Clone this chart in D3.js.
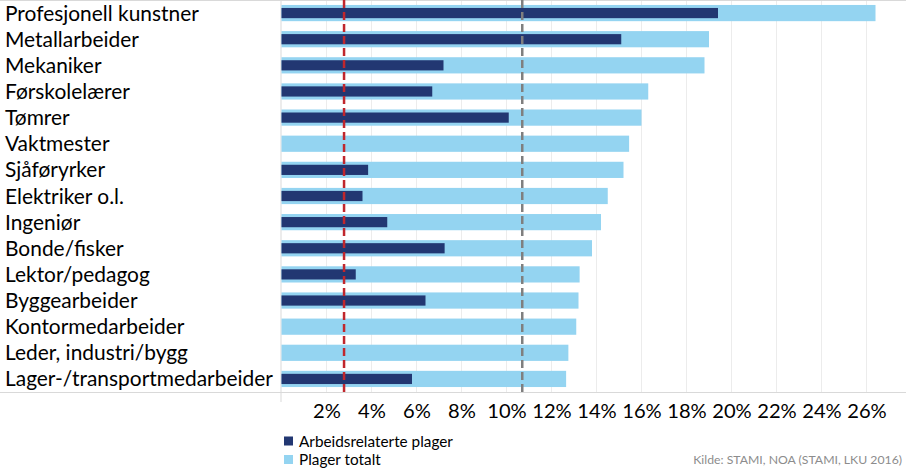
<!DOCTYPE html>
<html><head><meta charset="utf-8">
<script src="https://cdn.jsdelivr.net/npm/d3@7"></script>
<style>body{margin:0;background:#fff}svg{display:block}</style>
</head><body>
<svg id="c" width="906" height="470"></svg>
<script>
const categories = ["Profesjonell kunstner","Metallarbeider","Mekaniker","Førskolelærer","Tømrer","Vaktmester","Sjåførykrer".replace("ykrer","yrker"),"Elektriker o.l.","Ingeniør","Bonde/fisker","Lektor/pedagog","Byggearbeider","Kontormedarbeider","Leder, industri/bygg","Lager-/transportmedarbeider"];
const totalValues = [26.4,19.0,18.8,16.3,16.0,15.45,15.2,14.5,14.2,13.8,13.25,13.2,13.1,12.75,12.65];
const workValues  = [19.4,15.1,7.2,6.7,10.1,null,3.85,3.6,4.7,7.25,3.3,6.4,null,null,5.8];
const tickValues = [2,4,6,8,10,12,14,16,18,20,22,24,26];
const refLines = [{v:2.78,color:"#c0272d"},{v:10.7,color:"#7f7f7f"}];
const seriesNames = ["Arbeidsrelaterte plager","Plager totalt"];
const colors = ["#223772","#94d4f1"];
const sourceText = "Kilde: STAMI, NOA (STAMI, LKU 2016)";

const svg = d3.select("#c");
const font = "Lato, 'Open Sans', sans-serif";
const x = d3.scaleLinear().domain([0,28]).range([281.5, 281.5+28*22.5]);
const y = d3.scaleBand().domain(categories).range([0,392]).paddingInner(0.38).paddingOuter(0.19);

// fit font size of a text selection so that a given node has target width
function fit(sel, node, target, base){
  sel.attr("font-size", base);
  const w = node.getComputedTextLength();
  sel.attr("font-size", base*target/w);
}

// grid
svg.append("g").selectAll("line").data(tickValues).join("line")
  .attr("x1",d=>x(d)).attr("x2",d=>x(d)).attr("y1",0).attr("y2",392)
  .attr("stroke","#ececec").attr("stroke-width",1);

// frame lines
svg.append("line").attr("x1",0).attr("x2",906).attr("y1",0.5).attr("y2",0.5).attr("stroke","#d9d9d9");
svg.append("line").attr("x1",0).attr("x2",906).attr("y1",392.5).attr("y2",392.5).attr("stroke","#d9d9d9");
svg.append("line").attr("x1",x(0)-0.5).attr("x2",x(0)-0.5).attr("y1",0).attr("y2",402).attr("stroke","#d9d9d9");

// total bars
svg.append("g").selectAll("rect").data(categories).join("rect")
  .attr("x",x(0)).attr("y",d=>y(d)).attr("height",y.bandwidth())
  .attr("width",(d,i)=>x(totalValues[i])-x(0)).attr("fill",colors[1]);
// work bars
const dh = y.bandwidth()*0.63;
svg.append("g").selectAll("rect").data(categories.filter((d,i)=>workValues[i]!=null)).join("rect")
  .attr("x",x(0)).attr("y",d=>y(d)+(y.bandwidth()-dh)/2).attr("height",dh)
  .attr("width",d=>x(workValues[categories.indexOf(d)])-x(0)).attr("fill",colors[0]);

// reference lines
svg.append("g").selectAll("line").data(refLines).join("line")
  .attr("x1",d=>x(d.v)).attr("x2",d=>x(d.v)).attr("y1",0).attr("y2",392)
  .attr("stroke",d=>d.color).attr("stroke-width",2.5).attr("stroke-dasharray","8,4");

// category labels
const cl = svg.append("g").selectAll("text").data(categories).join("text")
  .attr("x",5).attr("y",d=>y(d)+y.bandwidth()/2).attr("dy","0.36em")
  .attr("font-family",font).attr("fill","#000").text(d=>d);
fit(cl, cl.nodes()[categories.length-1], 268, 20);

// x axis
const xa = svg.append("g").attr("transform","translate(0,392)")
  .call(d3.axisBottom(x).tickValues(tickValues).tickSize(0).tickFormat(d=>d+"%"));
xa.select(".domain").remove();
const tl = xa.selectAll("text").attr("font-family",font).attr("fill","#000").attr("dy","0.36em").attr("y",19);
fit(tl, tl.nodes()[tickValues.length-1], 39.5, 20);

// legend
const lg = svg.append("g");
const lt = [];
seriesNames.forEach((n,i)=>{
  lg.append("rect").attr("x",284).attr("y",436.5+i*18.5).attr("width",9).attr("height",9).attr("fill",colors[i]);
  lt.push(lg.append("text").attr("x",299).attr("y",441+i*18.5).attr("dy","0.36em")
    .attr("font-family",font).attr("fill","#000").text(n).node());
});
fit(d3.selectAll(lt), lt[0], 154, 14);
const st = svg.append("text").attr("x",902).attr("y",460).attr("dy","0.36em").attr("text-anchor","end")
  .attr("font-family",font).attr("fill","#8c8c8c").text(sourceText);
fit(st, st.node(), 209, 12);
</script>
</body></html>
